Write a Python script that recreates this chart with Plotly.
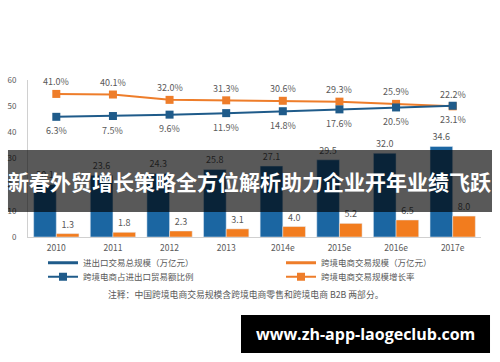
import plotly.graph_objects as go

# ---- data ----
years = ["2010", "2011", "2012", "2013", "2014e", "2015e", "2016e", "2017e"]
trade_total = [20.1, 23.6, 24.3, 25.8, 27.1, 29.5, 32.0, 34.6]      # 进出口交易总规模（万亿元）
ecom_scale = [1.3, 1.8, 2.3, 3.1, 4.0, 5.2, 6.5, 8.0]               # 跨境电商交易规模（万亿元）
ecom_share = [6.3, 7.5, 9.6, 11.9, 14.8, 17.6, 20.5, 23.1]          # 跨境电商占进出口贸易额比例 (%)
ecom_growth = [41.0, 40.1, 32.0, 31.3, 30.6, 29.3, 25.9, 22.2]      # 跨境电商交易规模增长率 (%)
y_ticks = [0, 10, 20, 30, 40, 50, 60]

name_total = "进出口交易总规模（万亿元）"
name_scale = "跨境电商交易规模（万亿元）"
name_share = "跨境电商占进出口贸易额比例"
name_growth = "跨境电商交易规模增长率"
note = "注释：中国跨境电商交易规模含跨境电商零售和跨境电商 B2B 两部分。"
banner = "新春外贸增长策略全方位解析助力企业开年业绩飞跃"
watermark = "www.zh-app-laogeclub.com"

BLUE_BAR = "#1b66a2"
ORANGE_BAR = "#f27c1e"
BLUE_LINE = "#1f5b8a"
ORANGE_LINE = "#ee7d2a"
TXT = "#595959"
FONT = "Noto Sans CJK SC"

fig = go.Figure()

fig.add_trace(go.Bar(
    x=years, y=trade_total, marker_color=BLUE_BAR, showlegend=False,
    texttemplate="%{y:.1f}", textposition="outside",
    textfont=dict(size=9, color=TXT, family=FONT), cliponaxis=False))
fig.add_trace(go.Bar(
    x=years, y=ecom_scale, marker_color=ORANGE_BAR, showlegend=False,
    texttemplate="%{y:.1f}", textposition="outside",
    textfont=dict(size=9, color=TXT, family=FONT), cliponaxis=False))

fig.add_trace(go.Scatter(
    x=years, y=ecom_growth, yaxis="y2", mode="lines+markers", name=name_growth,
    line=dict(color=ORANGE_LINE, width=2), marker=dict(symbol="square", size=8, color=ORANGE_LINE),
    legend="legend4", cliponaxis=False))
fig.add_trace(go.Scatter(
    x=years, y=ecom_share, yaxis="y2", mode="lines+markers", name=name_share,
    line=dict(color=BLUE_LINE, width=2), marker=dict(symbol="square", size=8, color=BLUE_LINE),
    legend="legend3", cliponaxis=False))

# legend-only entries for the bar series (drawn as lines like the reference)
fig.add_trace(go.Scatter(x=[years[0]], y=[None], mode="lines", name=name_total,
                         line=dict(color=BLUE_LINE, width=3), legend="legend", hoverinfo="skip"))
fig.add_trace(go.Scatter(x=[years[0]], y=[None], mode="lines", name=name_scale,
                         line=dict(color=ORANGE_LINE, width=3), legend="legend2", hoverinfo="skip"))

annotations = []
for i, v in enumerate(ecom_growth):
    annotations.append(dict(x=i, y=v, xref="x", yref="y2", text=f"{v:.1f}%", showarrow=False,
                            xanchor="center", yanchor="middle", yshift=12,
                            font=dict(size=9, color=TXT, family=FONT)))
for i, v in enumerate(ecom_share):
    annotations.append(dict(x=i, y=v, xref="x", yref="y2", text=f"{v:.1f}%", showarrow=False,
                            xanchor="center", yanchor="middle", yshift=-14,
                            font=dict(size=9, color=TXT, family=FONT)))

annotations.append(dict(x=0.482, y=-0.369, xref="paper", yref="paper", text=note, showarrow=False,
                        xanchor="center", yanchor="middle",
                        font=dict(size=8.8, color=TXT, family=FONT)))
annotations.append(dict(x=0.490, y=0.3567, xref="paper", yref="paper", text=banner, showarrow=False,
                        xanchor="center", yanchor="middle",
                        font=dict(size=21, color="white", family=FONT, weight="bold")))
annotations.append(dict(x=0.745, y=-0.618, xref="paper", yref="paper", text=watermark, showarrow=False,
                        xanchor="center", yanchor="middle",
                        font=dict(size=16, color="white", family="Open Sans", weight="bold")))

shapes = [
    dict(type="rect", xref="paper", yref="paper", x0=-0.0442, x1=1.0243, y0=0.1592, y1=0.5541,
         fillcolor="rgba(0,0,0,0.65)", line=dict(width=0), layer="above"),
    dict(type="rect", xref="paper", yref="paper", x0=0.4702, x1=1.0199, y0=-0.7389, y1=-0.4968,
         fillcolor="black", line=dict(width=0), layer="above"),
]

leg_common = dict(orientation="v", xanchor="left", yanchor="middle", bgcolor="rgba(0,0,0,0)",
                  font=dict(size=8.5, color=TXT, family=FONT), itemwidth=30)

fig.update_layout(
    width=500, height=362,
    margin=dict(l=28, r=19, t=80, b=125, autoexpand=False),
    paper_bgcolor="white", plot_bgcolor="white",
    barmode="group", bargap=0.2, bargroupgap=0,
    font=dict(family=FONT, color=TXT),
    xaxis=dict(type="category", categoryorder="array", categoryarray=years, range=[-0.5, 7.5],
               showgrid=False, showline=True, linecolor="#d0d0d0", linewidth=1,
               ticks="outside", ticklen=3, tickcolor="rgba(0,0,0,0)",
               tickfont=dict(size=8.5, color=TXT, family=FONT)),
    yaxis=dict(range=[0, 60], tickvals=y_ticks, showgrid=False, zeroline=False,
               showline=True, linecolor="#d0d0d0", linewidth=1,
               ticks="outside", ticklen=9, tickcolor="rgba(0,0,0,0)",
               tickfont=dict(size=8, color=TXT, family=FONT)),
    yaxis2=dict(range=[-175.8, 62.1], overlaying="y", visible=False),
    legend=dict(x=0.0331, y=-0.1637, **leg_common),
    legend2=dict(x=0.5585, y=-0.1637, **leg_common),
    legend3=dict(x=0.0331, y=-0.2529, **leg_common),
    legend4=dict(x=0.5585, y=-0.2529, **leg_common),
    annotations=annotations,
    shapes=shapes,
)

fig.write_html("out.html", config={"displayModeBar": False},
               post_script="document.body.style.margin='0';")
